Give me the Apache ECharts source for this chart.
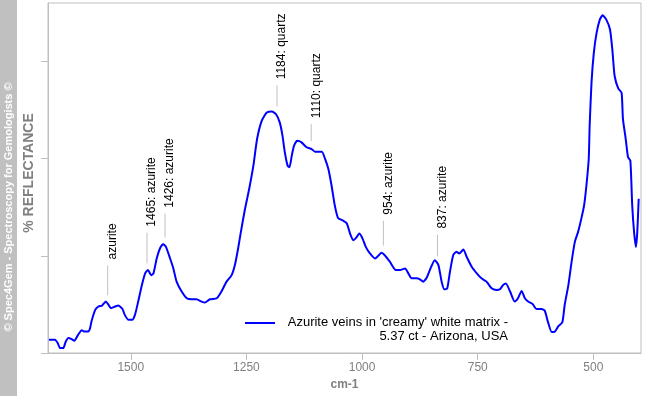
<!DOCTYPE html>
<html>
<head>
<meta charset="utf-8">
<script src="https://cdn.jsdelivr.net/npm/echarts@6/dist/echarts.min.js"></script>
<style>
html,body{margin:0;padding:0;background:#fff;}
#chart{width:645px;height:396px;}
</style>
</head>
<body>
<div id="chart"></div>
<script>
// ---- data ----
const wavenumbers = [1677,1664,1658,1653,1646,1641,1635,1629,1622,1614,1606,1601,1592,1588,1585,1577,1570,1562,1554,1549,1543,1534,1527,1518,1513,1505,1497,1491,1484,1476,1469,1463,1456,1451,1444,1437,1430,1424,1415,1408,1401,1390,1379,1368,1358,1347,1340,1329,1314,1304,1293,1282,1275,1268,1262,1253,1244,1235,1227,1217,1206,1195,1186,1178,1172,1167,1161,1157,1152,1147,1140,1131,1120,1109,1102,1087,1080,1073,1066,1059,1052,1042,1033,1026,1019,1013,1006,999,992,983,972,965,958,951,940,927,918,907,900,893,882,875,868,861,852,843,835,828,822,816,810,803,796,790,781,774,763,752,742,731,720,709,702,695,689,680,670,663,655,648,641,631,623,612,605,598,590,583,576,567,562,554,547,540,533,526,520,515,510,508,504,499,493,486,480,472,464,459,454,446,439,436,430,425,420,416,412,408,405,402];
const reflectance = [1.36,1.36,1.02,0.51,0.51,1.13,1.54,1.46,1.26,1.87,2.35,2.22,2.22,2.56,3.24,4.43,4.78,4.88,5.29,5.02,4.61,4.78,4.88,4.53,3.92,3.41,3.41,3.92,5.29,6.99,8.19,8.53,8.01,8.19,9.72,10.75,11.19,10.92,9.72,8.70,7.34,6.32,5.63,5.53,5.53,5.29,5.19,5.53,5.63,6.32,7.34,8.01,9.04,10.75,12.46,14.84,16.89,19.27,22.01,23.88,24.74,24.84,24.56,23.72,22.34,20.64,19.27,19.11,20.30,21.32,21.83,21.67,21.16,20.98,20.71,20.71,19.96,18.94,17.23,15.18,13.89,13.64,13.31,12.28,11.60,11.84,12.28,11.77,10.92,10.24,9.72,10.00,10.31,10.06,9.39,8.53,8.53,8.70,8.19,7.68,7.68,7.57,7.34,7.68,8.70,9.55,9.04,7.34,6.55,6.65,8.36,10.06,10.41,10.24,10.64,9.90,8.87,8.19,7.68,7.34,6.65,6.48,6.55,6.99,7.16,6.32,5.29,5.63,6.38,5.63,5.29,5.02,4.53,4.53,4.35,3.17,2.15,2.22,2.73,3.17,4.94,6.99,9.39,11.43,12.46,13.82,15.18,17.23,19.96,23.37,27.81,30.88,32.93,34.29,34.73,34.29,33.27,31.22,28.49,27.19,26.79,24.05,22.01,20.13,19.78,15.18,12.46,10.92,12.46,15.87];

const annWave  = [1550, 1465, 1426, 1184, 1110, 954, 837];
const annText  = ['azurite', '1465: azurite', '1426: azurite', '1184: quartz', '1110: quartz', '954: azurite', '837: azurite'];
const annTop   = [9.01, 12.38, 14.33, 27.53, 23.54, 13.61, 12.18];
const annBottom= [5.94, 9.21, 11.87, 25.38, 21.80, 11.05, 9.93];

const xTicks = [500, 750, 1000, 1250, 1500];
const yTicks = [0, 10, 20, 30];
const seriesName = "Azurite veins in 'creamy' white matrix -\n5.37 ct - Arizona, USA";

const lineData = wavenumbers.map((w, i) => [w, reflectance[i]]);
const annData = annWave.map((w, i) => [w, annTop[i], annBottom[i]]);

const chart = echarts.init(document.getElementById('chart'));
const gray = '#bfbfbf';
const FONT = '"Liberation Sans", Arial, sans-serif';
chart.setOption({
  animation: false,
  backgroundColor: '#ffffff',
  grid: { left: 48, top: 3, right: 4, bottom: 41, show: true, borderColor: gray, borderWidth: 1 },
  xAxis: {
    type: 'value', min: 397, max: 1679, inverse: true,
    name: 'cm-1', nameLocation: 'middle', nameGap: 26,
    nameTextStyle: { color: '#808080', fontWeight: 'bold', fontSize: 12, fontFamily: FONT },
    axisLine: { lineStyle: { color: gray } },
    axisTick: { customValues: xTicks, length: 7, lineStyle: { color: gray } },
    axisLabel: { customValues: xTicks, margin: 9, color: '#808080', fontSize: 12, fontFamily: FONT,
      formatter: function (v) { return String(v); } },
    splitLine: { show: false }
  },
  yAxis: {
    type: 'value', min: 0, max: 36,
    axisLine: { show: true, lineStyle: { color: gray } },
    axisTick: { show: true, customValues: yTicks, length: 7, lineStyle: { color: gray } },
    axisLabel: { show: false },
    splitLine: { show: false }
  },
  graphic: [
    { type: 'rect', left: 0, top: 0, shape: { width: 17, height: 396 }, style: { fill: '#c0c0c0' }, silent: true },
    { type: 'text', x: 9, y: 207, rotation: Math.PI / 2,
      style: { text: '© Spec4Gem - Spectroscopy for Gemologists ©', fill: '#ffffff', font: 'bold 11px ' + FONT, align: 'center', verticalAlign: 'middle' } },
    { type: 'text', x: 29, y: 173, rotation: Math.PI / 2,
      style: { text: '% REFLECTANCE', fill: '#808080', font: 'bold 14px ' + FONT, align: 'center', verticalAlign: 'middle' } },
    { type: 'line', shape: { x1: 245, y1: 323, x2: 275, y2: 323 }, style: { stroke: '#0000ff', lineWidth: 2 } },
    { type: 'text', x: 508, y: 315,
      style: { text: seriesName, fill: '#000000', font: '13px ' + FONT, align: 'right', verticalAlign: 'top', lineHeight: 14 } }
  ],
  series: [
    {
      type: 'line', name: seriesName, data: lineData, showSymbol: false, smooth: 0.2,
      lineStyle: { color: '#0000ff', width: 2 }, itemStyle: { color: '#0000ff' }, z: 3
    },
    {
      type: 'custom', data: annData, silent: true, clip: false, z: 2,
      encode: { x: 0, y: [1, 2] },
      renderItem: function (params, api) {
        const i = params.dataIndex;
        const p1 = api.coord([api.value(0), api.value(1)]);
        const p2 = api.coord([api.value(0), api.value(2)]);
        return {
          type: 'group',
          children: [
            { type: 'line', shape: { x1: p1[0], y1: p1[1], x2: p2[0], y2: p2[1] }, style: { stroke: '#c0c0c0', lineWidth: 1 } },
            { type: 'text', x: p1[0] - 1, y: p1[1] - 6, rotation: Math.PI / 2,
              style: { text: annText[i], fill: '#000000', font: '12px ' + FONT, align: 'left', verticalAlign: 'top' } }
          ]
        };
      }
    }
  ]
});
</script>
</body>
</html>
